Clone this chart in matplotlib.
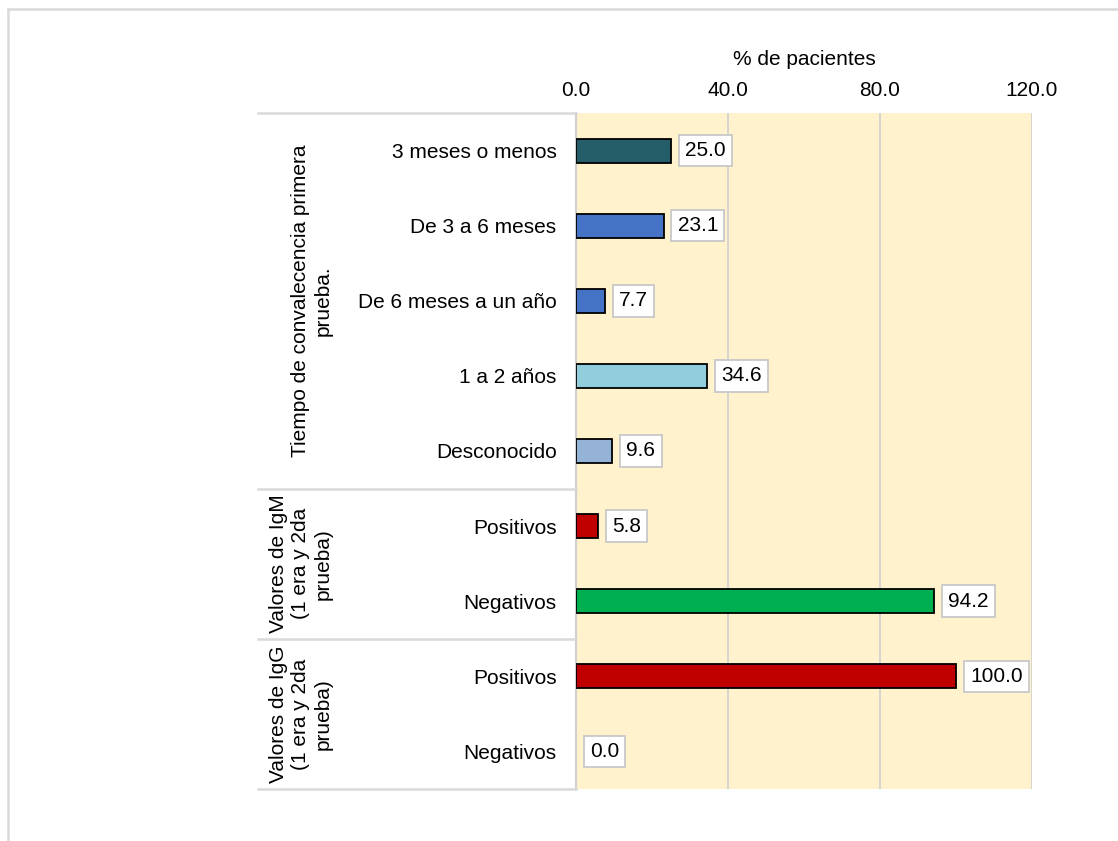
import matplotlib
matplotlib.use("Agg")
import matplotlib.pyplot as plt
from matplotlib.lines import Line2D

plt.rcParams['font.family'] = ['Liberation Sans', 'DejaVu Sans']

categories = ["3 meses o menos", "De 3 a 6 meses", "De 6 meses a un año", "1 a 2 años",
              "Desconocido", "Positivos", "Negativos", "Positivos", "Negativos"]
values = [25.0, 23.1, 7.7, 34.6, 9.6, 5.8, 94.2, 100.0, 0.0]
colors = ["#255E69", "#4472C4", "#4472C4", "#92CDDC", "#95B3D7",
          "#C00000", "#00B050", "#C00000", "#C00000"]
groups = ["Tiempo de convalecencia primera\nprueba.",
          "Valores de IgM\n(1 era y 2da\nprueba)",
          "Valores de IgG\n(1 era y 2da\nprueba)"]
group_sizes = [5, 2, 2]
xticks = [0.0, 40.0, 80.0, 120.0]

FS = 15
W, H = 1118, 841
fig = plt.figure(figsize=(W / 100, H / 100), dpi=100)

x0, x1 = 576, 1032
y0, y1 = 113, 789
ax = fig.add_axes([x0 / W, 1 - y1 / H, (x1 - x0) / W, (y1 - y0) / H])
ax.set_facecolor("#FFF2CC")

n = len(categories)
ypos = list(range(n))
lws = [1.3 if v > 0 else 0 for v in values]
ax.barh(ypos, values, height=0.32, color=colors, edgecolor="black", linewidth=lws, zorder=3)
ax.set_ylim(n - 0.5, -0.5)
ax.set_xlim(0, 120)

ax.xaxis.tick_top()
ax.xaxis.set_label_position("top")
ax.set_xticks(xticks)
ax.set_xticklabels([f"{t:.1f}" for t in xticks], fontsize=FS)
ax.set_xlabel("% de pacientes", fontsize=FS, labelpad=12)
ax.tick_params(axis="x", length=0, pad=9)
ax.set_yticks(ypos)
ax.set_yticklabels(categories, fontsize=FS)
ax.tick_params(axis="y", length=0, pad=14)
ax.grid(axis="x", color="#D0D0D0", linewidth=1.2, zorder=0)
for s in ["top", "right", "bottom"]:
    ax.spines[s].set_visible(False)
ax.spines["left"].set_color("#D0D0D0")
ax.spines["left"].set_linewidth(1.5)

for yi, v in zip(ypos, values):
    ax.annotate(f"{v:.1f}", xy=(v, yi), xytext=(10, 0), textcoords="offset points",
                ha="left", va="center", fontsize=FS, zorder=4,
                bbox=dict(boxstyle="square,pad=0.3", fc="white", ec="#C8C8C8", lw=1.3))

# group separators and labels
lx0 = 258
row_h = (y1 - y0) / n
start = 0
fig.add_artist(Line2D([lx0 / W, x0 / W], [1 - y0 / H, 1 - y0 / H], color="#D9D9D9", lw=1.8))
for g, sz in zip(groups, group_sizes):
    gy0 = y0 + start * row_h
    gy1 = y0 + (start + sz) * row_h
    fig.add_artist(Line2D([lx0 / W, x0 / W], [1 - gy1 / H, 1 - gy1 / H], color="#D9D9D9", lw=1.8))
    fig.text(333 / W, 1 - (gy0 + gy1) / 2 / H, g, rotation=90, ha="right", va="center",
             fontsize=FS, multialignment="center", linespacing=1.25)
    start += sz

# outer frame
fig.add_artist(Line2D([8 / W, 1], [1 - 9 / H, 1 - 9 / H], color="#D9D9D9", lw=1.8))
fig.add_artist(Line2D([8 / W, 8 / W], [0, 1 - 9 / H], color="#D9D9D9", lw=1.8))

fig.savefig("out.png", dpi=100)
